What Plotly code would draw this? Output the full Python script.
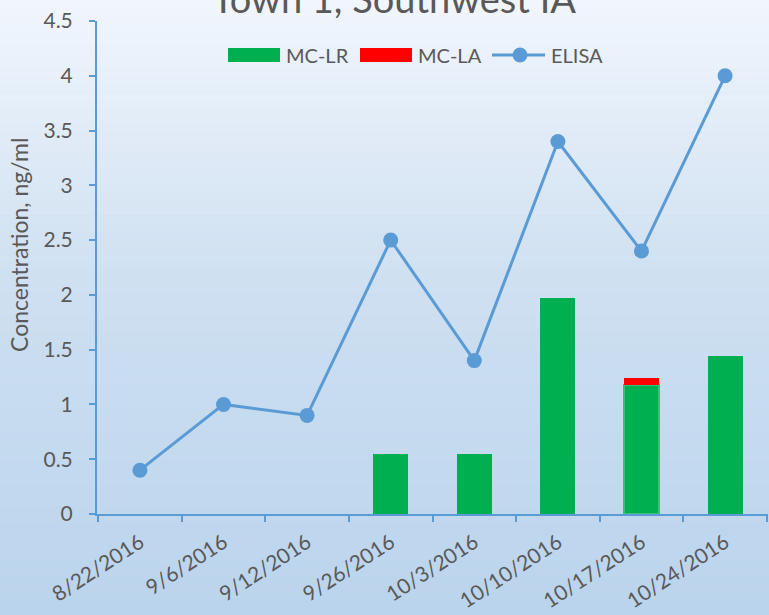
import plotly.graph_objects as go

dates = ["8/22/2016", "9/6/2016", "9/12/2016", "9/26/2016", "10/3/2016",
         "10/10/2016", "10/17/2016", "10/24/2016"]
mc_lr = [None, None, None, 0.55, 0.55, 1.97, 1.18, 1.44]
mc_la = [None, None, None, None, None, None, 0.06, None]
elisa = [0.4, 1.0, 0.9, 2.5, 1.4, 3.4, 2.4, 4.0]

W, H = 769, 615
L_M, R_M, T_M, B_M = 97, 1, 21, 101
PW, PH = W - L_M - R_M, H - T_M - B_M

def px(x):  # pixel -> paper x
    return (x - L_M) / PW

def py(y):  # pixel -> paper y
    return (H - B_M - y) / PH

fig = go.Figure()
fig.add_trace(go.Bar(x=dates, y=mc_lr, name="MC-LR", marker_color="#00B050",
                     marker_line_width=[0, 0, 0, 0, 0, 0, 2, 0],
                     marker_line_color="#3CBF78", width=0.42, showlegend=False))
fig.add_trace(go.Bar(x=dates, y=mc_la, name="MC-LA", marker_color="#FF0000",
                     marker_line_width=0, width=0.42, showlegend=False))
fig.add_trace(go.Scatter(x=dates, y=elisa, name="ELISA", mode="lines+markers",
                         line=dict(color="#5B9BD5", width=3),
                         marker=dict(size=15, color="#5B9BD5"), showlegend=False))

# vertical gradient background
def lerp(a, b, t):
    return tuple(round(a[i] + (b[i] - a[i]) * t) for i in range(3))

stops = [(0.0, (241, 246, 253)), (0.45, (207, 224, 241)), (1.0, (186, 212, 237))]
n = 80
shapes = []
for i in range(n):
    t = (i + 0.5) / n
    for j in range(len(stops) - 1):
        if stops[j][0] <= t <= stops[j + 1][0]:
            tt = (t - stops[j][0]) / (stops[j + 1][0] - stops[j][0])
            c = lerp(stops[j][1], stops[j + 1][1], tt)
            break
    y_top = H * i / n
    y_bot = H * (i + 1) / n
    shapes.append(dict(type="rect", xref="paper", yref="paper",
                       x0=px(-5), x1=px(W + 5), y0=py(y_bot + (5 if i == n - 1 else 0.6)),
                       y1=py(y_top - (5 if i == 0 else 0)),
                       fillcolor="rgb(%d,%d,%d)" % c, line_width=0, layer="below"))

font = "Lato, 'Open Sans', sans-serif"
TXT = "#595959"

# legend drawn by hand (Excel-style wide swatches)
annotations = []
leg_y = 55
shapes.append(dict(type="rect", xref="paper", yref="paper", x0=px(228), x1=px(280),
                   y0=py(62), y1=py(48), fillcolor="#00B050", line_width=0))
annotations.append(dict(text="MC-LR", xref="paper", yref="paper", x=px(284), y=py(leg_y),
                        xanchor="left", yanchor="middle", showarrow=False,
                        font=dict(size=20, color=TXT)))
shapes.append(dict(type="rect", xref="paper", yref="paper", x0=px(360), x1=px(412),
                   y0=py(62), y1=py(48), fillcolor="#FF0000", line_width=0))
annotations.append(dict(text="MC-LA", xref="paper", yref="paper", x=px(416), y=py(leg_y),
                        xanchor="left", yanchor="middle", showarrow=False,
                        font=dict(size=20, color=TXT)))
shapes.append(dict(type="line", xref="paper", yref="paper", x0=px(492), x1=px(545),
                   y0=py(leg_y), y1=py(leg_y), line=dict(color="#5B9BD5", width=3)))
shapes.append(dict(type="circle", xref="paper", yref="paper", x0=px(512.5), x1=px(527.5),
                   y0=py(leg_y + 7.5), y1=py(leg_y - 7.5), fillcolor="#5B9BD5",
                   line_width=0))
annotations.append(dict(text="ELISA", xref="paper", yref="paper", x=px(549), y=py(leg_y),
                        xanchor="left", yanchor="middle", showarrow=False,
                        font=dict(size=20, color=TXT)))
# y-axis title
annotations.append(dict(text="Concentration, ng/ml", xref="paper", yref="paper",
                        x=px(19), y=py(245), xanchor="center", yanchor="middle",
                        textangle=-90, showarrow=False, font=dict(size=23, color=TXT)))

fig.update_layout(
    width=W, height=H,
    margin=dict(l=L_M, r=R_M, t=T_M, b=B_M),
    paper_bgcolor="rgba(0,0,0,0)",
    plot_bgcolor="rgba(0,0,0,0)",
    shapes=shapes,
    annotations=annotations,
    barmode="stack",
    showlegend=False,
    font=dict(family=font, color=TXT, size=20),
    title=dict(text="Town 1, Southwest IA", x=394 / W, xanchor="center",
               y=1.0, yanchor="middle", yref="container",
               font=dict(size=38, color=TXT, family=font)),
    xaxis=dict(
        automargin=False,
        showline=True, linecolor="#5B9BD5", linewidth=2,
        ticks="outside", tickson="boundaries", ticklen=6, tickcolor="#5B9BD5",
        tickwidth=2, tickangle=-33, showgrid=False, ticklabelstandoff=6,
        tickfont=dict(size=21, color=TXT),
    ),
    yaxis=dict(
        automargin=False,
        range=[0, 4.5], dtick=0.5, showline=True, linecolor="#5B9BD5",
        linewidth=2, ticks="outside", ticklen=6, tickcolor="#5B9BD5",
        tickwidth=2, showgrid=False, zeroline=False, ticklabelstandoff=12,
        tickfont=dict(size=21, color=TXT),
    ),
)

fig.write_html("out.html", config={"displayModeBar": False},
               post_script="document.body.style.margin='0';"
                           "document.body.style.background='rgb(186,212,237)';")
